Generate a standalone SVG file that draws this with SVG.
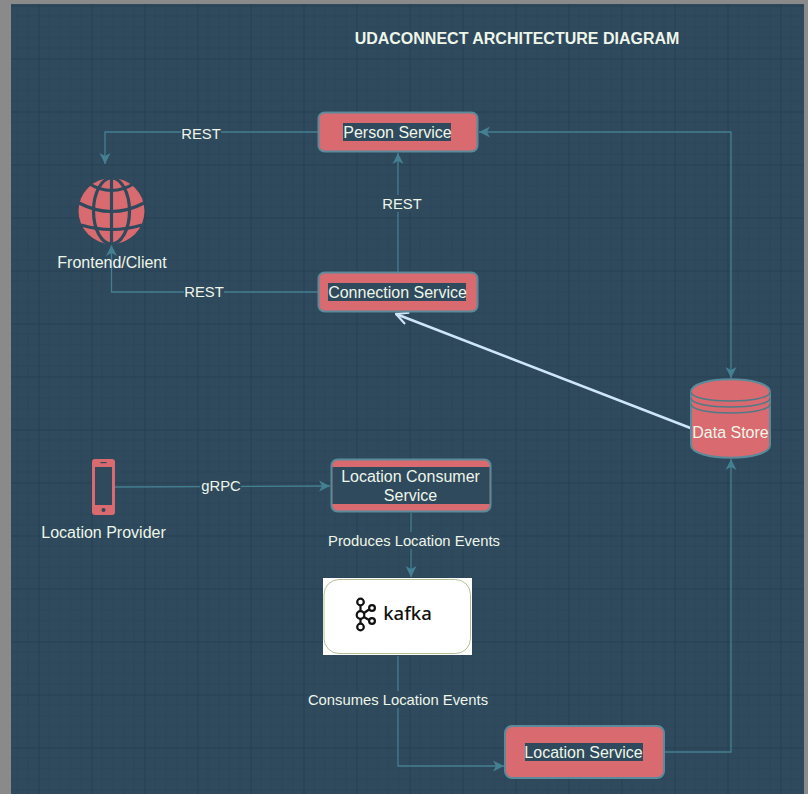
<svg xmlns="http://www.w3.org/2000/svg" width="808" height="794" viewBox="0 0 808 794">
<style>
text{font-family:"Liberation Sans",Arial,sans-serif;font-size:16px;fill:#eef6ea;text-anchor:middle}
.lbt{font-size:14.8px}
.svc{fill:#d96a6f;stroke:#5b8a9a;stroke-width:2}
.hl{fill:#2f4a5c}
.edge{fill:none;stroke:#457f92;stroke-width:1.3}
.lb{fill:#2f4a5c}
</style>
<defs>
<pattern id="grid" patternUnits="userSpaceOnUse" x="38.5" y="5.500" width="53" height="53">
<path d="M10.6 0V53M21.2 0V53M31.8 0V53M42.4 0V53M0 10.6H53M0 21.2H53M0 31.8H53M0 42.4H53" stroke="#29435a" stroke-width="0.6" fill="none"/>
<path d="M0 0V53M0 0H53" stroke="#1f3648" stroke-width="0.9" fill="none"/>
</pattern>
<marker id="arr" viewBox="0 0 12 12" refX="11" refY="6" markerWidth="12" markerHeight="12" markerUnits="userSpaceOnUse" orient="auto-start-reverse"><path d="M0 0.5L11 6L0 11.5L3 6Z" fill="#457f92"/></marker>
<marker id="arrl" viewBox="0 0 14 14" refX="13" refY="7" markerWidth="14" markerHeight="14" markerUnits="userSpaceOnUse" orient="auto"><path d="M1 1L13 7L1 13" fill="none" stroke="#cfe6fa" stroke-width="2.200"/></marker>
</defs>
<rect width="808" height="794" fill="#8a8a8a"/>
<rect x="11" y="4" width="793" height="790" fill="#2f4a5c"/>
<rect x="11" y="4" width="793" height="790" fill="url(#grid)"/>
<text x="517" y="43.700" style="font-weight:700">UDACONNECT ARCHITECTURE DIAGRAM</text>
<g id="connectors">
<path class="edge" d="M318 132H105V164" marker-end="url(#arr)"/>
<path class="edge" d="M398 272V153" marker-end="url(#arr)"/>
<path class="edge" d="M318 292H111.500V245" marker-end="url(#arr)"/>
<path class="edge" d="M731 378V132H479" marker-start="url(#arr)" marker-end="url(#arr)"/>
<path d="M693 429L396 314" fill="none" stroke="#cfe6fa" stroke-width="2.600" marker-end="url(#arrl)"/>
<path class="edge" d="M115 487L330 486" marker-end="url(#arr)"/>
<path class="edge" d="M411 513V577" marker-end="url(#arr)"/>
<path class="edge" d="M398 656V766H504" marker-end="url(#arr)"/>
<path class="edge" d="M665 752H731V459" marker-end="url(#arr)"/>
<rect class="lb" x="181" y="124" width="40" height="17"/><text class="lbt" x="201" y="138.500">REST</text>
<rect class="lb" x="382" y="195" width="40" height="17"/><text class="lbt" x="402" y="208.500">REST</text>
<rect class="lb" x="184" y="283" width="40" height="17"/><text class="lbt" x="204" y="296.500">REST</text>
<rect class="lb" x="200" y="477" width="41" height="17"/><text class="lbt" x="221" y="490.500">gRPC</text>
<rect class="lb" x="329" y="532" width="170" height="17"/><text class="lbt" x="414" y="545.500">Produces Location Events</text>
<rect class="lb" x="309" y="691" width="178" height="17"/><text class="lbt" x="398" y="704.500">Consumes Location Events</text>
</g>
<g id="person-service"><rect class="svc" x="318.500" y="112.500" width="159" height="39" rx="6"/><rect class="hl" x="343" y="123" width="108" height="18"/><text x="397.500" y="137.700">Person Service</text></g>
<g id="connection-service"><rect class="svc" x="318.500" y="272.500" width="159" height="39" rx="6"/><rect class="hl" x="328" y="283" width="138" height="18"/><text x="397.500" y="297.700">Connection Service</text></g>
<g id="frontend-client">
<circle cx="111.500" cy="211" r="33" fill="#d96a6f"/>
<g fill="none" stroke="#2f4a5c" stroke-width="3.200">
<path d="M111.500 178V244"/>
<ellipse cx="111.500" cy="211" rx="18" ry="33"/>
<path d="M88 183Q111.500 198 135 183"/>
<path d="M79 203Q111.500 220 144 203"/>
<path d="M81 225Q111.500 234 142 225"/>
</g>
<text x="112" y="267.700">Frontend/Client</text></g>
<g id="data-store">
<path class="svc" d="M691 392C691 375 770 375 770 392V445C770 462 691 462 691 445Z" stroke="#4f8a90"/>
<path d="M691 392C691 404 770 404 770 392M691 398C691 410 770 410 770 398M691 404C691 416 770 416 770 404" fill="none" stroke="#4f7a88" stroke-width="1.500"/>
<text x="730.500" y="437.700">Data Store</text></g>
<g id="location-provider">
<rect x="92" y="459" width="23" height="56" rx="3" fill="#d96a6f"/>
<rect x="95" y="467" width="17" height="38" fill="#2f4a5c"/>
<rect x="100.500" y="462" width="6" height="1.200" fill="#2f4a5c"/>
<circle cx="103.500" cy="510" r="2" fill="#2f4a5c"/>
<text x="103.500" y="538">Location Provider</text></g>
<g id="location-consumer-service"><rect class="svc" x="331.500" y="459.500" width="159" height="52" rx="6"/><rect class="hl" x="332.500" y="467" width="157" height="37"/><text x="410.500" y="481.500">Location Consumer</text><text x="410.500" y="500.500">Service</text></g>
<g id="kafka">
<rect x="323" y="578" width="149" height="77" fill="#fff"/>
<rect x="324" y="579.500" width="146.500" height="74" rx="15" fill="#fff" stroke="#a9b98a" stroke-width="0.900"/>
<g fill="none" stroke="#111" stroke-width="2.200"><circle cx="360.500" cy="602" r="3.300"/><circle cx="360.500" cy="615" r="3.800"/><circle cx="360.500" cy="627" r="3.300"/><circle cx="372" cy="608" r="2.900"/><circle cx="372" cy="621" r="2.900"/><path d="M360.500 605V611M360.500 619V624M364 613L369 609.500M364 617L369 620"/></g>
<text x="407.500" y="620" style="font-family:'Noto Sans',sans-serif;font-weight:500;font-size:18.500px;fill:#111">kafka</text></g>
<g id="location-service"><rect class="svc" x="505" y="726" width="159" height="52" rx="7"/><rect class="hl" x="525" y="743" width="118" height="18"/><text x="583.500" y="757.700">Location Service</text></g>
</svg>
